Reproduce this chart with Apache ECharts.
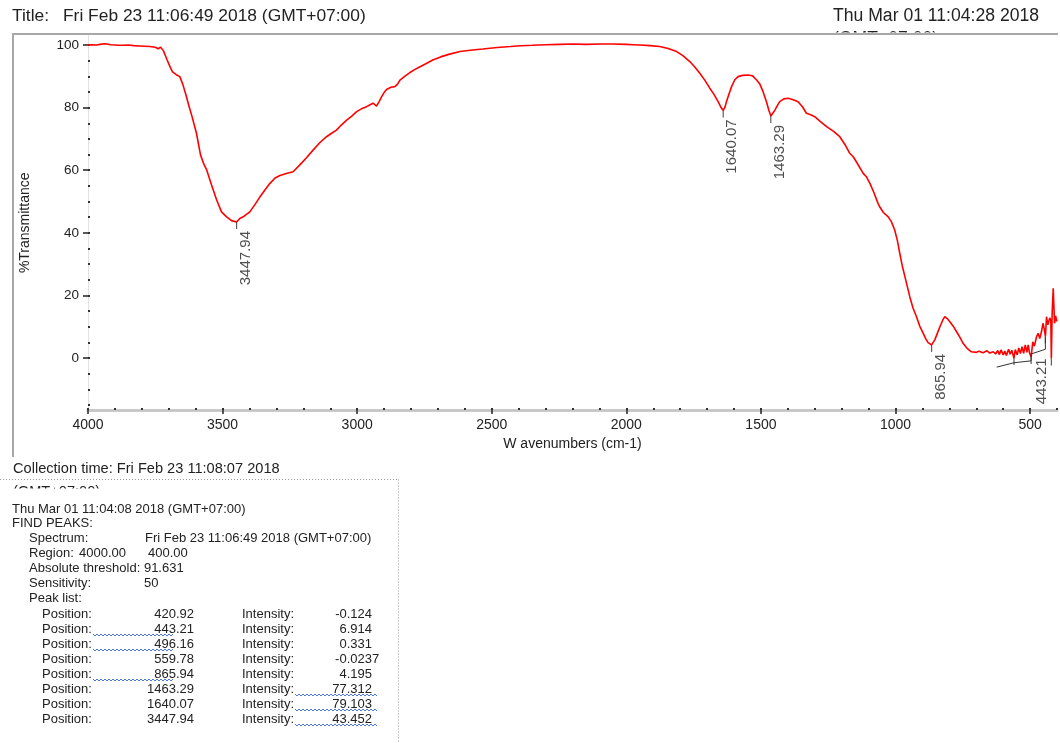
<!DOCTYPE html>
<html>
<head>
<meta charset="utf-8">
<title>FTIR spectrum</title>
<script src="https://cdn.jsdelivr.net/npm/echarts@6/dist/echarts.min.js"></script>
<style>
html, body { margin: 0; padding: 0; background: #fff; }
#chart { width: 1060px; height: 743px; }
</style>
</head>
<body>
<div id="chart"></div>
<script>
// spectrum (cm-1 / %T)
const wavenumbers = [
  4000, 3985, 3970, 3955, 3940, 3930, 3915, 3900, 3885, 3870, 3850, 3830, 3810, 3790, 3770, 3750,
  3739, 3730, 3720, 3706, 3695, 3686, 3672, 3659, 3648, 3636, 3625, 3615, 3597, 3582, 3570, 3559,
  3541, 3522, 3504, 3485, 3467, 3448, 3436, 3420, 3399, 3380, 3361, 3340, 3324, 3305, 3287, 3260,
  3238, 3213, 3190, 3163, 3140, 3114, 3095, 3077, 3058, 3039, 3020, 3002, 2984, 2965, 2950, 2941,
  2934, 2928, 2918, 2909, 2900, 2891, 2875, 2860, 2850, 2841, 2820, 2804, 2785, 2770, 2745, 2719,
  2690, 2660, 2618, 2580, 2533, 2480, 2430, 2408, 2350, 2300, 2247, 2200, 2150, 2098, 2050, 2000,
  1975, 1950, 1912, 1876, 1845, 1813, 1790, 1764, 1745, 1727, 1708, 1690, 1675, 1659, 1648, 1640,
  1633, 1628, 1618, 1609, 1597, 1585, 1568, 1548, 1532, 1516, 1504, 1492, 1480, 1470, 1463, 1456,
  1448, 1438, 1430, 1415, 1399, 1380, 1362, 1345, 1331, 1315, 1300, 1280, 1256, 1230, 1207, 1185,
  1170, 1157, 1140, 1120, 1108, 1095, 1080, 1065, 1060, 1045, 1027, 1015, 1003, 993, 984, 975,
  965, 956, 947, 935, 922, 910, 897, 888, 879, 872, 866, 860, 854, 845, 835, 825,
  817, 808, 798, 785, 773, 760, 749, 735, 718, 700, 690, 675, 660, 650, 637, 628,
  620, 614, 608, 600, 594, 588, 580, 574, 568, 560, 555, 548, 542, 536, 530, 524,
  518, 512, 507, 502, 496, 490, 484, 476, 470, 464, 458, 452, 448, 443, 439, 434,
  430, 427, 423, 421, 418, 414, 412, 409, 405, 402, 400
];
const transmittance = [
  100.0, 100.1, 100.0, 100.2, 100.4, 100.3, 100.1, 100.0, 99.9, 99.9, 100.0, 99.8, 99.7, 99.6, 99.5, 99.3,
  98.8, 99.3, 98.2, 95.2, 93.0, 91.4, 90.5, 89.9, 87.5, 84.0, 80.5, 77.6, 71.8, 64.9, 62.0, 60.1,
  55.3, 50.5, 46.7, 45.1, 43.9, 43.45, 44.6, 45.3, 46.7, 49.0, 51.5, 54.0, 55.8, 57.5, 58.3, 59.0,
  59.5, 61.7, 63.8, 66.5, 68.7, 70.7, 71.8, 72.8, 74.5, 76.0, 77.3, 78.7, 79.6, 80.3, 81.0, 81.4,
  81.0, 80.5, 82.0, 83.5, 84.8, 85.8, 86.5, 86.7, 87.5, 88.8, 90.2, 91.2, 92.2, 92.9, 94.0, 95.2,
  96.2, 97.0, 97.9, 98.3, 98.7, 99.2, 99.5, 99.7, 99.9, 100.1, 100.2, 100.3, 100.2, 100.3, 100.3, 100.2,
  100.1, 100.0, 99.8, 99.5, 98.9, 97.9, 96.6, 94.7, 92.9, 91.0, 88.7, 86.2, 84.3, 81.9, 80.0, 79.1,
  80.3, 81.9, 84.5, 86.7, 88.9, 89.9, 90.3, 90.4, 90.2, 88.8, 87.5, 85.1, 82.0, 79.0, 77.3, 78.2,
  79.2, 80.8, 81.9, 82.8, 83.0, 82.5, 81.9, 80.2, 78.2, 77.7, 77.1, 75.6, 73.9, 72.4, 70.7, 67.8,
  65.4, 64.3, 61.9, 59.0, 57.9, 55.8, 52.8, 49.4, 48.5, 46.5, 45.1, 43.5, 40.9, 37.5, 33.4, 29.5,
  26.0, 22.8, 19.6, 16.0, 13.2, 10.2, 7.9, 6.2, 4.9, 5.2, 4.2, 4.8, 5.8, 7.8, 10.0, 12.0,
  13.2, 12.6, 11.6, 10.1, 8.4, 6.5, 4.7, 3.2, 2.0, 1.8, 2.2, 1.7, 2.3, 1.6, 2.0, 1.3,
  2.4, 1.1, 2.6, 1.0, 2.2, 0.8, 2.8, 1.2, 2.5, -0.02, 2.7, 1.0, 3.2, 1.4, 3.6, 1.5,
  4.2, 1.8, 4.2, 1.6, 0.33, 5.2, 3.8, 6.8, 7.9, 6.2, 8.3, 11.1, 9.5, 6.9, 13.2, 10.6,
  10.0, 12.8, 12.1, -0.12, 14.5, 22.3, 17.5, 11.1, 13.5, 12.1, 11.7
];

// peak list (FIND PEAKS report)
const peakPositions = [420.92, 443.21, 496.16, 559.78, 865.94, 1463.29, 1640.07, 3447.94];
const peakIntensities = [-0.124, 6.914, 0.331, -0.0237, 4.195, 77.312, 79.103, 43.452];
const labelledPeaks = [443.21, 865.94, 1463.29, 1640.07, 3447.94];

const xTicks = [4000, 3500, 3000, 2500, 2000, 1500, 1000, 500];
const yTicks = [0, 20, 40, 60, 80, 100];

const FONT = 'Liberation Sans, Arial, sans-serif';
const INK = '#222';

let xMinor = [];
for (let v = 4000; v >= 400; v -= 100) xMinor.push(v);
let yMinor = [];
for (let v = -15; v <= 100; v += 5) yMinor.push(v);

const fmtPos = v => v.toFixed(2);
const fmtInt = v => Math.abs(v) < 0.1 ? v.toPrecision(3) : v.toFixed(3);

// spell-check squiggle under some words of the report
const squiggle = (x1, x2, y) => {
  let pts = [];
  let up = true;
  for (let x = x1; x <= x2; x += 2) {
    pts.push([x, up ? y - 1 : y + 1]);
    up = !up;
  }
  return {
    type: 'polyline', z: 20, silent: true,
    shape: { points: pts },
    style: { stroke: '#4a78d8', lineWidth: 1, fill: null }
  };
};

const txt = (s, x, y, size, align) => ({
  type: 'text', x: x, y: y, z: 10, silent: true,
  style: { text: s, font: size + 'px ' + FONT, fill: INK, align: align || 'left', verticalAlign: 'middle' }
});

let graphics = [
  txt('Title:', 12, 16, 17.4),
  txt('Fri Feb 23 11:06:49 2018 (GMT+07:00)', 63, 16, 17.4),
  txt('Thu Mar 01 11:04:28 2018', 833, 16, 17.6),
  txt('(GMT+07:00)', 833, 39, 17.6),
  { type: 'rect', z: 11, silent: true, shape: { x: 820, y: 32.5, width: 140, height: 18 }, style: { fill: '#fff' } },
  // outer frame
  { type: 'line', z: 12, silent: true, shape: { x1: 13, y1: 34, x2: 1058, y2: 34 }, style: { stroke: '#a8a8a8', lineWidth: 2 } },
  { type: 'line', z: 12, silent: true, shape: { x1: 13, y1: 33, x2: 13, y2: 457 }, style: { stroke: '#a8a8a8', lineWidth: 2 } },

  txt('Collection time: Fri Feb 23 11:08:07 2018', 13, 469, 14.6),
  txt('(GMT+07:00)', 13, 492, 14.6),
  { type: 'rect', z: 11, silent: true, shape: { x: 0, y: 488.5, width: 200, height: 11 }, style: { fill: '#fff' } },
  { type: 'line', z: 12, silent: true, shape: { x1: 0, y1: 479.5, x2: 398.5, y2: 479.5 }, style: { stroke: '#999', lineWidth: 1, lineDash: [1, 2] } },
  { type: 'line', z: 12, silent: true, shape: { x1: 398.5, y1: 479.5, x2: 398.5, y2: 743 }, style: { stroke: '#999', lineWidth: 1, lineDash: [1, 2] } },

  txt('Thu Mar 01 11:04:08 2018 (GMT+07:00)', 12, 509, 13),
  txt('FIND PEAKS:', 12, 523, 13),
  txt('Spectrum:', 29, 538, 13),
  txt('Fri Feb 23 11:06:49 2018 (GMT+07:00)', 145, 538, 13),
  txt('Region:', 29, 553, 13),
  txt('4000.00', 79, 553, 13),
  txt('400.00', 148, 553, 13),
  txt('Absolute threshold: 91.631', 29, 568, 13),
  txt('Sensitivity:', 29, 583, 13),
  txt('50', 144, 583, 13),
  txt('Peak list:', 29, 598, 13)
];

peakPositions.forEach((p, i) => {
  const y = 614 + i * 15;
  const it = fmtInt(peakIntensities[i]);
  const dec = it.split('.')[1].length;
  graphics.push(txt('Position:', 42, y, 13));
  graphics.push(txt(fmtPos(p), 194, y, 13, 'right'));
  graphics.push(txt('Intensity:', 242, y, 13));
  graphics.push(txt(it, 372 + (dec - 3) * 7.2, y, 13, 'right'));
});
[1, 2, 4].forEach(i => graphics.push(squiggle(93, 173, 620 + i * 15)));
[5, 6, 7].forEach(i => graphics.push(squiggle(295, 377, 620 + i * 15)));

// label offsets are given in the rotated text frame: [-down, right]
const peakData = peakPositions.map((p, i) => {
  const shown = labelledPeaks.indexOf(p) >= 0;
  const item = { value: [p, peakIntensities[i]] };
  item.label = { show: shown };
  if (p < 450) item.label.offset = [-13, -4];
  return item;
});

let chart = echarts.init(document.getElementById('chart'));

let option = {
  animation: false,
  backgroundColor: '#fff',
  textStyle: { fontFamily: FONT },
  grid: { left: 88, top: 35.6, width: 969, height: 374.4, containLabel: false },
  xAxis: [
    {
      type: 'value', min: 400, max: 4000, inverse: true, position: 'bottom',
      name: 'W avenumbers (cm-1)', nameLocation: 'middle', nameGap: 27,
      nameTextStyle: { fontSize: 14, color: INK, fontFamily: FONT },
      axisLine: { show: true, onZero: false, lineStyle: { color: '#c8c8c8', width: 3 } },
      axisTick: { show: true, customValues: xTicks, length: 4, lineStyle: { color: INK, width: 1.5 } },
      axisLabel: { customValues: xTicks, fontSize: 14, color: INK, margin: 8, fontFamily: FONT, formatter: v => String(v) },
      splitLine: { show: false }
    },
    {
      type: 'value', min: 400, max: 4000, inverse: true, position: 'bottom', offset: 0,
      axisLine: { show: false, onZero: false },
      axisTick: { show: true, customValues: xMinor, inside: true, length: 2, lineStyle: { color: '#333', width: 2 } },
      axisLabel: { show: false },
      splitLine: { show: false }
    }
  ],
  yAxis: [
    {
      type: 'value', min: -16.6, max: 103, position: 'left',
      name: '%Transmittance', nameLocation: 'middle', nameGap: 56, nameRotate: 90,
      nameTextStyle: { fontSize: 14, color: INK, fontFamily: FONT },
      axisLine: { show: true, onZero: false, lineStyle: { color: '#e2e2e2', width: 1 } },
      axisTick: { show: true, customValues: yTicks, length: 5, lineStyle: { color: INK, width: 1.5 } },
      axisLabel: { customValues: yTicks, fontSize: 13.5, color: INK, margin: 9, fontFamily: FONT },
      splitLine: { show: false }
    },
    {
      type: 'value', min: -16.6, max: 103, position: 'left', offset: 0,
      axisLine: { show: false, onZero: false },
      axisTick: { show: true, customValues: yMinor, inside: true, length: 2, lineStyle: { color: '#333', width: 2 } },
      axisLabel: { show: false },
      splitLine: { show: false }
    }
  ],
  series: [
    {
      name: 'spectrum', type: 'line', xAxisIndex: 0, yAxisIndex: 0,
      data: wavenumbers.map((w, i) => [w, transmittance[i]]),
      showSymbol: false, silent: true,
      lineStyle: { color: '#ff0000', width: 1.6 }
    },
    {
      name: 'peaks', type: 'scatter', xAxisIndex: 0, yAxisIndex: 0,
      data: peakData,
      symbol: 'rect', symbolSize: [1.2, 7], symbolOffset: [0, 3.5],
      itemStyle: { color: '#333' }, silent: true, z: 3,
      label: {
        position: 'bottom', distance: 2, rotate: 90, align: 'right', verticalAlign: 'middle',
        offset: [0, 9], fontSize: 15, color: INK, fontFamily: FONT,
        formatter: p => fmtPos(p.value[0])
      }
    }
  ],
  graphic: graphics
};

chart.setOption(option);

// leader line joining the crowded peak marks near the right edge
const px = (w, t) => chart.convertToPixel({ xAxisIndex: 0, yAxisIndex: 0 }, [w, t]);
const leader = [[624, -2.9], [peakPositions[3], -1.5], [peakPositions[2], -0.9], [peakPositions[2], 1.3], [peakPositions[1], 2.8], [peakPositions[1], peakIntensities[1]]];
chart.setOption({
  graphic: graphics.concat([{
    type: 'polyline', z: 5, silent: true,
    shape: { points: leader.map(d => px(d[0], d[1])) },
    style: { stroke: '#333', lineWidth: 1, fill: null }
  }])
});
</script>
</body>
</html>
